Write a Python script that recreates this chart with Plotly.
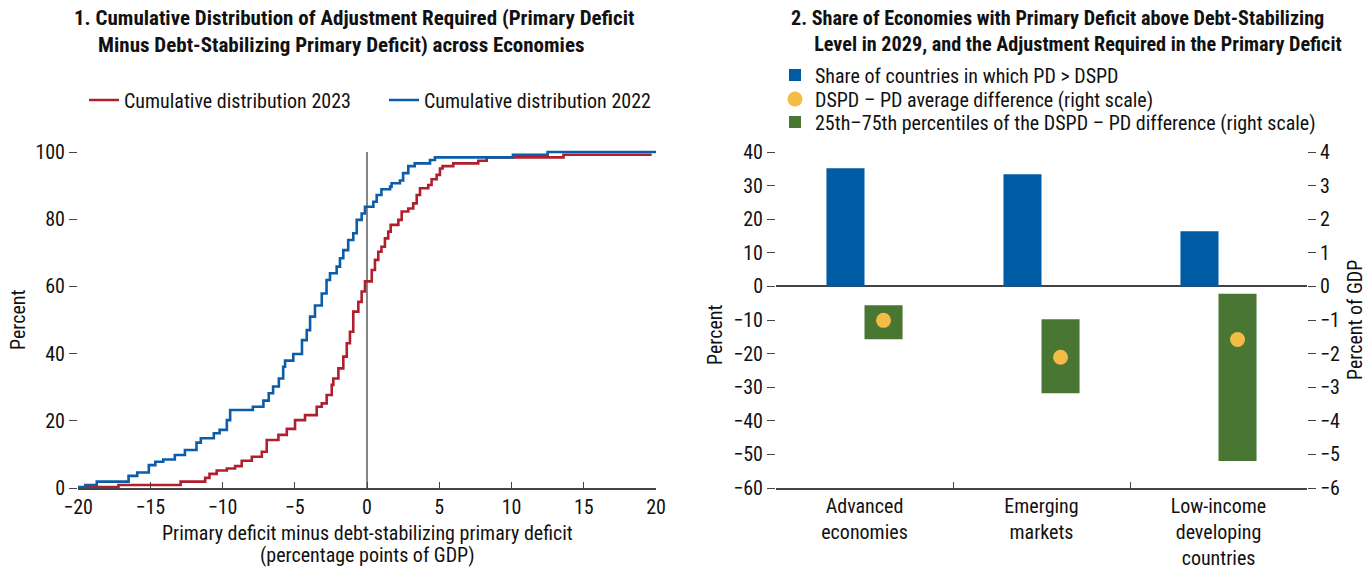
import plotly.graph_objects as go

# ---------------- data ----------------
# Panel 1: cumulative distributions (step points: x where the step occurs, level after it)
x2023 = [-19.5, -17.2, -12.9, -11.2, -10.9, -10.4, -9.7, -9.13, -8.67, -7.97, -7.28, -6.94,
         -6.13, -5.55, -4.98, -4.29, -3.48, -3.13, -2.79, -2.44, -2.33, -1.98, -1.64, -1.4,
         -1.18, -0.95, -0.6, -0.37, -0.14, 0.33, 0.55, 0.78, 1.0, 1.24, 1.47, 1.64, 2.17,
         2.4, 2.86, 3.2, 3.44, 3.67, 4.24, 4.47, 4.82, 5.05, 5.23, 5.97, 7.7, 8.28, 13.6, 19.7]
y2023 = [0.3, 0.9, 1.9, 3.0, 4.2, 5.2, 5.8, 6.5, 8.1, 9.3, 10.8, 14.3,
         15.8, 17.6, 20.2, 21.7, 24.2, 25.2, 27.7, 30.7, 32.6, 35.6, 39.1, 43.1,
         46.5, 52.5, 55.4, 58.5, 61.5, 64.9, 67.9, 70.3, 71.8, 74.3, 76.3, 78.3, 79.8,
         82.3, 83.2, 84.7, 87.2, 89.2, 90.2, 91.9, 93.2, 95.1, 95.8, 96.6, 97.4, 98.4, 99.2, 99.2]

x2022 = [-20.0, -19.5, -18.7, -16.5, -15.9, -15.1, -14.65, -14.1, -13.3, -12.6, -11.8, -11.5,
         -10.6, -10.2, -9.7, -9.47, -7.9, -7.17, -6.8, -6.5, -6.1, -5.8, -5.67, -5.1, -4.5,
         -4.17, -3.94, -3.6, -3.13, -2.8, -2.56, -2.1, -1.87, -1.64, -1.3, -0.95, -0.71,
         -0.37, -0.14, 0.44, 0.67, 1.0, 1.6, 1.7, 2.28, 2.5, 2.86, 3.3, 4.36, 4.7, 10.1,
         12.5, 20.0]
y2022 = [0.3, 0.9, 1.9, 3.6, 4.6, 6.8, 7.8, 8.5, 9.8, 11.3, 13.5, 14.8,
         16.3, 17.3, 20.2, 23.2, 24.2, 26.0, 28.2, 30.2, 32.6, 36.1, 37.9, 39.9, 44.0,
         47.0, 51.0, 54.3, 57.9, 61.9, 63.9, 65.9, 68.4, 70.8, 73.8, 75.8, 79.8,
         81.7, 83.7, 85.2, 87.2, 88.9, 89.7, 90.7, 91.5, 93.7, 95.8, 96.6, 97.6, 98.4, 99.2,
         100.0, 100.0]

x_ticks1 = [-20, -15, -10, -5, 0, 5, 10, 15, 20]
y_ticks1 = [0, 20, 40, 60, 80, 100]

# Panel 2
groups = ["Advanced<br>economies", "Emerging<br>markets", "Low-income<br>developing<br>countries"]
share_pd_above_dspd = [35.2, 33.4, 16.4]        # percent (left scale)
avg_difference = [-1.01, -2.11, -1.58]          # percent of GDP (right scale)
pct_upper = [-0.56, -0.98, -0.22]               # percent of GDP (right scale)
pct_lower = [-1.57, -3.18, -5.20]
y_ticks2 = [-60, -50, -40, -30, -20, -10, 0, 10, 20, 30, 40]
y_ticks3 = [-6, -5, -4, -3, -2, -1, 0, 1, 2, 3, 4]

# ---------------- style ----------------
W, H = 1369, 569
FONT = "Liberation Sans Narrow, Arial Narrow, Roboto Condensed, Liberation Sans, sans-serif"
FS = 20
RED = "#B01F2E"
BLUE_LINE = "#0B5DAA"
BLUE_BAR = "#005BA5"
GREEN = "#4A7634"
YELLOW = "#F2BC46"
AXIS = "#444444"
BW = 0.215  # bar width (category units)


def fx(p):
    return p / W


def fy(p):
    return 1 - p / H


idx = list(range(len(groups)))

fig = go.Figure()

# Panel 1 lines
fig.add_trace(go.Scatter(x=x2023, y=y2023, mode="lines", line=dict(color=RED, width=2.6, shape="hv"),
                         name="Cumulative distribution 2023", xaxis="x", yaxis="y", legend="legend"))
fig.add_trace(go.Scatter(x=x2022, y=y2022, mode="lines", line=dict(color=BLUE_LINE, width=2.6, shape="hv"),
                         name="Cumulative distribution 2022", xaxis="x", yaxis="y", legend="legend2"))

# Panel 2
fig.add_trace(go.Bar(x=idx, y=share_pd_above_dspd, offset=-BW, width=BW, marker_color=BLUE_BAR,
                     marker_line_width=0, name="Share of countries in which PD > DSPD",
                     xaxis="x2", yaxis="y2", legend="legend3"))
fig.add_trace(go.Bar(x=idx, base=pct_upper, y=[l - u for l, u in zip(pct_lower, pct_upper)],
                     offset=0, width=BW, marker_color=GREEN, marker_line_width=0,
                     name="25th–75th percentiles of the DSPD – PD difference (right scale)",
                     xaxis="x2", yaxis="y3", legend="legend5"))
fig.add_trace(go.Scatter(x=[i + BW / 2 for i in idx], y=avg_difference, mode="markers",
                         marker=dict(color=YELLOW, size=15, line=dict(width=0)),
                         name="DSPD – PD average difference (right scale)",
                         xaxis="x2", yaxis="y3", legend="legend4"))
# carrier for the category labels axis
fig.add_trace(go.Scatter(x=idx, y=[None] * len(idx), mode="markers", xaxis="x3", yaxis="y2",
                         showlegend=False, hoverinfo="skip"))

ydom = [fy(488), fy(152)]
ydom1 = [fy(488), fy(152 - 3.36)]


def leg(xp, yp):
    return dict(orientation="h", x=fx(xp), y=fy(yp), xanchor="left", yanchor="middle",
                font=dict(size=FS), bgcolor="rgba(0,0,0,0)", itemwidth=30)


fig.update_layout(
    width=W, height=H,
    margin=dict(l=0, r=0, t=0, b=0, autoexpand=False),
    paper_bgcolor="white", plot_bgcolor="white",
    font=dict(family=FONT, size=FS, color="#111111"),
    barmode="overlay",
    showlegend=True,
    xaxis=dict(domain=[fx(78), fx(656)], range=[-20, 20], tickvals=x_ticks1,
               ticks="inside", ticklen=6, tickcolor=AXIS, tickwidth=1.3,
               showline=True, linecolor=AXIS, linewidth=1.6,
               showgrid=False, zeroline=False, anchor="y", fixedrange=True),
    yaxis=dict(domain=ydom1, range=[0, 101], tickvals=y_ticks1,
               ticks="outside", ticklen=8, tickcolor=AXIS, tickwidth=1.3,
               showline=False, showgrid=False, zeroline=False, anchor="x"),
    yaxis4=dict(overlaying="y", side="right", anchor="x", range=[0, 101], tickvals=y_ticks1,
                ticks="outside", ticklen=8, tickcolor=AXIS, tickwidth=1.3,
                showticklabels=False, showline=False, showgrid=False, zeroline=False),
    xaxis2=dict(domain=[fx(776), fx(1307)], range=[-0.5, 2.5], tickvals=[-0.5, 0.5, 1.5, 2.5],
                ticks="inside", ticklen=6, tickcolor=AXIS, tickwidth=1.3, showticklabels=False,
                showline=True, linecolor=AXIS, linewidth=1.6, showgrid=False, zeroline=False,
                anchor="y2"),
    xaxis3=dict(overlaying="x2", anchor="y2", side="bottom", range=[-0.5, 2.5], tickvals=idx,
                ticktext=groups, ticks="", showline=False, showgrid=False, zeroline=False,
                ticklabelstandoff=4),
    yaxis2=dict(domain=ydom, range=[-60, 40], tickvals=y_ticks2, anchor="x2",
                ticks="outside", ticklen=8, tickcolor=AXIS, tickwidth=1.3,
                showline=False, showgrid=False, zeroline=True, zerolinecolor=AXIS, zerolinewidth=1.6),
    yaxis3=dict(overlaying="y2", side="right", anchor="x2", range=[-6, 4], tickvals=y_ticks3,
                ticks="outside", ticklen=8, tickcolor=AXIS, tickwidth=1.3,
                showline=False, showgrid=False, zeroline=False),
    legend=leg(84, 100),
    legend2=leg(384, 100),
    legend3=leg(775, 75),
    legend4=leg(775, 99),
    legend5=leg(775, 122),
)

# reference line at zero on panel 1
fig.add_shape(type="line", xref="x", yref="y", x0=0, x1=0, y0=0, y1=100,
              line=dict(color=AXIS, width=1.3), layer="below")

NB = "&nbsp;"
annotations = [
    dict(text="<b>1. Cumulative Distribution of Adjustment Required (Primary Deficit</b><br>"
              + NB * 5 + "<b>Minus Debt-Stabilizing Primary Deficit) across Economies</b>",
         x=fx(72), y=fy(4), xanchor="left", yanchor="top", align="left", font=dict(size=21)),
    dict(text="<b>2. Share of Economies with Primary Deficit above Debt-Stabilizing</b><br>"
              + NB * 5 + "<b>Level in 2029, and the Adjustment Required in the Primary Deficit</b>",
         x=fx(789), y=fy(4), xanchor="left", yanchor="top", align="left", font=dict(size=20.2)),
    dict(text="Primary deficit minus debt-stabilizing primary deficit",
         x=fx(367), y=fy(533), xanchor="center", yanchor="middle", font=dict(size=FS)),
    dict(text="(percentage points of GDP)",
         x=fx(367), y=fy(555), xanchor="center", yanchor="middle", font=dict(size=FS)),
    dict(text="Percent", x=fx(18), y=fy(320), textangle=-90, xanchor="center", yanchor="middle",
         font=dict(size=FS)),
    dict(text="Percent", x=fx(715), y=fy(335), textangle=-90, xanchor="center", yanchor="middle",
         font=dict(size=FS)),
    dict(text="Percent of GDP", x=fx(1355), y=fy(320), textangle=-90, xanchor="center",
         yanchor="middle", font=dict(size=FS)),
]
for a in annotations:
    a.update(xref="paper", yref="paper", showarrow=False)
    fig.add_annotation(**a)

fig.write_html("out.html", config={"displayModeBar": False},
               post_script="document.body.style.margin='0';document.body.style.overflow='hidden';")
